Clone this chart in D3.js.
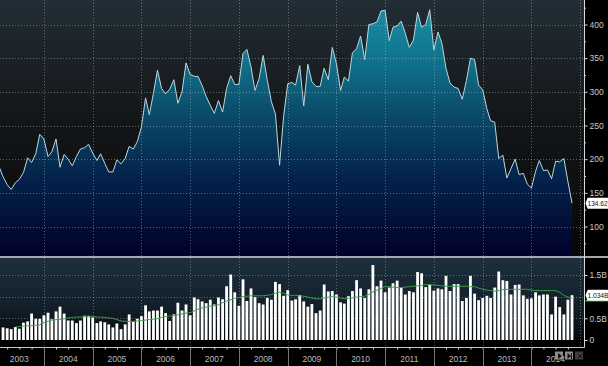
<!DOCTYPE html>
<html>
<head>
<meta charset="utf-8">
<script src="https://cdnjs.cloudflare.com/ajax/libs/d3/7.8.5/d3.min.js"></script>
<style>
html, body { margin: 0; padding: 0; background: #000; overflow: hidden; }
svg { display: block; }
text { font-family: "Liberation Sans", Arial, sans-serif; }
.axis path { display: none; }
.axis line { stroke: #d8d8d8; }
.axis text { fill: #c8c8c8; font-size: 8.5px; }
.grid { stroke: #c8d0d4; stroke-opacity: .42; stroke-dasharray: 1 2; }
</style>
</head>
<body>
<div id="chart"></div>
<script>
// monthly, Feb 2003 - Nov 2014
const priceValues = [
    188,174,162,155,165,170,180,202,195,208,237,230,204,211,230,188,207,200,190,204,
    215,217,222,209,198,208,194,181,181,199,193,201,219,215,226,248,291,266,298,332,
    305,297,304,318,283,300,343,326,323,323,309,293,280,268,287,270,305,324,311,311,
    357,363,337,302,320,354,317,285,267,191,263,312,314,310,339,279,341,315,308,308,
    335,318,366,342,302,322,316,358,364,383,348,400,401,404,420,421,376,396,398,405,
    387,366,377,418,396,400,422,362,389,372,335,313,307,305,289,317,350,348,310,303,
    275,257,255,201,206,172,186,200,177,179,163,157,182,198,183,184,171,197,196,201,
    167,134.62
];

// bars start one month after the price line, in billions
const volumeValues = [
    .29,.27,.25,.30,.26,.40,.43,.61,.49,.49,.57,.63,.48,.66,.77,.61,.45,.45,.39,.45,
    .56,.56,.52,.39,.43,.41,.36,.29,.38,.25,.36,.59,.42,.49,.55,.80,.66,.68,.68,.77,
    .62,.44,.59,.86,.68,.82,.57,.98,.94,.89,.85,.93,.82,.98,.94,1.24,1.51,1.10,.79,1.40,
    .90,1.19,.99,.85,.82,.97,.93,1.34,1.29,1.02,1.15,.91,.94,1.04,.89,.77,.83,.62,.68,1.28,
    1.12,1.13,1.05,.87,.84,1.01,1.13,1.38,1.19,.97,1.17,1.73,1.24,1.37,1.10,1.21,1.31,1.37,1.21,1.05,
    1.13,1.10,1.57,1.54,1.22,1.27,1.14,1.19,1.17,1.48,1.13,1.29,1.29,.90,.97,1.48,1.07,.92,.97,1.02,
    .97,1.21,1.58,1.38,1.36,1.05,1.27,1.28,1.03,.95,.96,1.10,1.03,1.05,1.05,.59,1.00,.76,.59,.93,1.034
];

const volumeAvg = [
    null,null,null,.30,.31,.32,.33,.33,.34,.35,.40,.43,.46,.47,.48,.49,.51,.52,.53,.53,
    .54,.54,.54,.53,.53,.52,.51,.50,.47,.44,.43,.43,.43,.44,.45,.46,.47,.48,.49,.52,
    .54,.55,.56,.58,.60,.62,.63,.67,.71,.74,.76,.78,.79,.81,.86,.90,.93,.96,.98,1.00,
    1.01,1.02,1.02,1.02,1.02,1.03,1.05,1.08,1.10,1.08,1.04,1.03,1.03,1.02,1.01,.99,.97,.95,.95,.97,
    .99,1.00,.99,.97,.95,.96,.97,.99,1.00,1.01,1.05,1.11,1.15,1.19,1.23,1.23,1.22,1.21,1.21,1.22,
    1.23,1.24,1.25,1.26,1.28,1.28,1.27,1.26,1.25,1.24,1.24,1.24,1.24,1.24,1.24,1.23,1.23,1.20,1.17,1.15,
    1.14,1.13,1.14,1.16,1.17,1.17,1.17,1.17,1.17,1.17,1.15,1.14,1.14,1.14,1.14,1.14,1.14,1.10,1.03,.99,.97
];

const priceTicks = [100, 150, 200, 250, 300, 350, 400];
const priceMinorTicks = [75, 125, 175, 225, 275, 325, 375, 425];
const volumeTicks = [0, 0.5, 1.5];
const volumeGrid = [0.5, 1, 1.5];
const yearLabels = [2003, 2004, 2005, 2006, 2007, 2008, 2009, 2010, 2011, 2012, 2013, 2014];

const width = 608, height = 366;
const plotRight = 584.5;
const topBottom = 256, volTop = 258, volBase = 340, axisY = 347.5;

const months = priceValues.map((d, i) => new Date(2003, 1 + i, 1));

const x = d3.scaleTime()
    .domain([months[0], months[months.length - 1]])
    .range([-0.7, 572]);
const yPrice = d3.scaleLinear().domain([100, 400]).range([226.5, 24.5]);
const yVol = d3.scaleLinear().domain([0, 1.5]).range([volBase, 275]);

const svg = d3.select("#chart").append("svg")
    .attr("width", width)
    .attr("height", height);

const defs = svg.append("defs");

function gradient(id, y1, y2, stops) {
    const g = defs.append("linearGradient")
        .attr("id", id)
        .attr("gradientUnits", "userSpaceOnUse")
        .attr("x1", 0).attr("x2", 0)
        .attr("y1", y1).attr("y2", y2);
    stops.forEach(s => g.append("stop").attr("offset", s[0]).attr("stop-color", s[1]));
}

gradient("bgTop", 0, topBottom, [[0, "#222d35"], [.45, "#141719"], [1, "#060708"]]);
gradient("bgVol", volTop, volBase, [[0, "#1c2f3e"], [.6, "#121f29"], [1, "#060809"]]);
gradient("areaFill", 0, topBottom, [
    [0, "#1a92a8"], [.25, "#10708a"], [.45, "#0a4a68"], [.7, "#04224a"], [1, "#01012a"]
]);

svg.append("rect").attr("width", width).attr("height", height).attr("fill", "#000");
svg.append("rect").attr("width", plotRight).attr("height", topBottom).attr("fill", "url(#bgTop)");
svg.append("rect").attr("y", volTop).attr("width", plotRight).attr("height", volBase - volTop).attr("fill", "url(#bgVol)");

// price area and line
const area = d3.area()
    .x((d, i) => x(months[i]))
    .y0(topBottom)
    .y1(d => yPrice(d));
const line = d3.line()
    .x((d, i) => x(months[i]))
    .y(d => yPrice(d));

svg.append("path").datum(priceValues).attr("d", area).attr("fill", "url(#areaFill)");

// grid sits on top of the area
const years = d3.timeYear.range(new Date(2004, 0, 1), new Date(2015, 0, 1));
svg.append("g").selectAll("line")
    .data(priceTicks)
    .enter().append("line")
    .attr("class", "grid")
    .attr("x1", 0).attr("x2", plotRight)
    .attr("y1", d => Math.round(yPrice(d)) + .5)
    .attr("y2", d => Math.round(yPrice(d)) + .5);
svg.append("g").selectAll("line")
    .data(volumeGrid)
    .enter().append("line")
    .attr("class", "grid")
    .attr("x1", 0).attr("x2", plotRight)
    .attr("y1", d => Math.round(yVol(d)) + .5)
    .attr("y2", d => Math.round(yVol(d)) + .5);
svg.append("g").selectAll("line")
    .data(years)
    .enter().append("line")
    .attr("class", "grid")
    .attr("x1", d => Math.round(x(d)) + .5)
    .attr("x2", d => Math.round(x(d)) + .5)
    .attr("y1", 0).attr("y2", axisY);
svg.append("line")
    .attr("class", "grid")
    .attr("x1", 580.5).attr("x2", 580.5)
    .attr("y1", 0).attr("y2", axisY);

svg.append("path").datum(priceValues)
    .attr("d", line)
    .attr("fill", "none")
    .attr("stroke", "#bcd6de")
    .attr("stroke-width", 1);

// volume bars
const barMonths = months.slice(1);
svg.append("g").selectAll("rect")
    .data(volumeValues)
    .enter().append("rect")
    .attr("x", (d, i) => x(barMonths[i]) - 1.4)
    .attr("y", d => yVol(d))
    .attr("width", 2.8)
    .attr("height", d => yVol(0) - yVol(d))
    .attr("fill", "#fff");

const avgLine = d3.line()
    .defined(d => d !== null)
    .x((d, i) => x(barMonths[i]))
    .y(d => yVol(d));
svg.append("path").datum(volumeAvg)
    .attr("d", avgLine)
    .attr("fill", "none")
    .attr("stroke", "#3f9a4a")
    .attr("stroke-width", 1);

// panel divider
svg.append("rect").attr("y", topBottom).attr("width", width).attr("height", 2).attr("fill", "#a4a8ac");

// right axes
const axisG = svg.append("g").attr("class", "axis").attr("transform", `translate(${plotRight},0)`);
axisG.append("line").attr("y1", 0).attr("y2", axisY).attr("stroke", "#c8c8c8");
axisG.append("g")
    .call(d3.axisRight(yPrice).tickValues(priceTicks).tickSize(3).tickPadding(2));
axisG.append("g")
    .call(d3.axisRight(yPrice).tickValues(priceMinorTicks).tickSize(1.5).tickFormat(""));
axisG.append("g")
    .call(d3.axisRight(yVol).tickValues(volumeTicks).tickSize(3).tickPadding(2)
        .tickFormat(d => d === 0 ? "0" : d + "B"));

// bottom time axis
svg.append("line")
    .attr("x1", 0).attr("x2", plotRight)
    .attr("y1", axisY).attr("y2", axisY)
    .attr("stroke", "#c8c8c8");
svg.append("g")
    .attr("class", "axis")
    .attr("transform", `translate(0,${axisY})`)
    .call(d3.axisBottom(x)
        .tickValues(d3.timeMonth.range(new Date(2003, 3, 1), new Date(2014, 11, 1), 3))
        .tickSize(2)
        .tickFormat(""));
svg.append("g").selectAll("line")
    .data(years)
    .enter().append("line")
    .attr("x1", d => Math.round(x(d)) + .5)
    .attr("x2", d => Math.round(x(d)) + .5)
    .attr("y1", axisY).attr("y2", height)
    .attr("stroke", "#70767a");
svg.append("g").selectAll("text")
    .data(yearLabels)
    .enter().append("text")
    .attr("x", d => x(new Date(d, 6, 1)))
    .attr("y", 362)
    .attr("text-anchor", "middle")
    .attr("font-size", 8.5)
    .attr("fill", "#b8b8b8")
    .text(d => d);

// last value tags, small enough to fit the margin
function valueTag(yPos, label) {
    const g = svg.append("g").attr("transform", `translate(${plotRight + 1},${yPos})`);
    g.append("path")
        .attr("d", "M0,0 L1.5,-4 Q1.5,-5.5 3,-5.5 L23,-5.5 L23,5.5 L3,5.5 Q1.5,5.5 1.5,4 Z")
        .attr("fill", "#fff");
    g.append("text")
        .attr("x", 2).attr("y", 2.5)
        .attr("font-size", 6.6)
        .attr("fill", "#111")
        .text(label);
}
svg.append("rect")
    .attr("x", plotRight + 1).attr("y", 300)
    .attr("width", 23).attr("height", 1.5)
    .attr("fill", "#2fc24a");
valueTag(yPrice(priceValues[priceValues.length - 1]), "134.62");
valueTag(yVol(volumeValues[volumeValues.length - 1]), "1.034B");

// playback buttons, bottom right
const buttons = svg.append("g");
[[555, "#8c8c8c", "M558,353 L558,359 L562,356 Z"],
 [565, "#8c8c8c", "M567.5,353 L567.5,359 L571,356 Z M571,353 L572,353 L572,359 L571,359 Z"],
 [575, "#3e3e3e", "M578,354 L582,358 M582,354 L578,358"]].forEach(b => {
    buttons.append("rect")
        .attr("x", b[0]).attr("y", 351.5)
        .attr("width", 8).attr("height", 8)
        .attr("fill", b[1]);
    buttons.append("path")
        .attr("d", b[2])
        .attr("fill", "#111")
        .attr("stroke", b[0] === 575 ? "#111" : "none");
});
</script>
</body>
</html>
